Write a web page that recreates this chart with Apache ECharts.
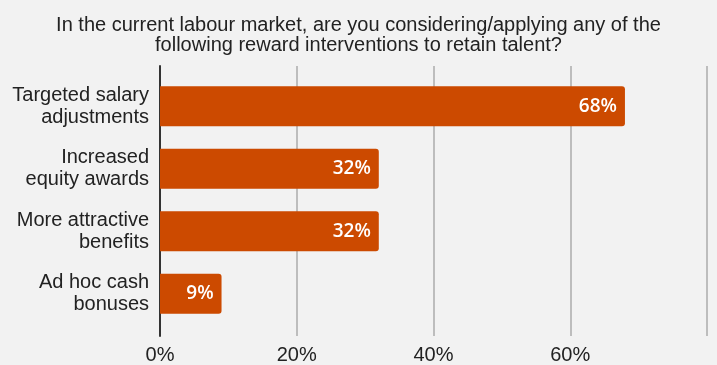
<!DOCTYPE html>
<html>
<head>
<meta charset="utf-8">
<script src="https://cdn.jsdelivr.net/npm/echarts@6/dist/echarts.min.js"></script>
<style>
  html, body { margin: 0; padding: 0; background: #f2f2f2; }
  #chart { width: 717px; height: 365px; }
</style>
</head>
<body>
<div id="chart"></div>
<script>
// Reward interventions, share of respondents (%)
const categories = [
  'Targeted salary\nadjustments',
  'Increased\nequity awards',
  'More attractive\nbenefits',
  'Ad hoc cash\nbonuses'
];
const values = [68, 32, 32, 9];
const tickValues = [0, 20, 40, 60, 80];

const chart = echarts.init(document.getElementById('chart'), null, { renderer: 'canvas' });

const xMin = tickValues[0];
const xMax = tickValues[tickValues.length - 1];
const step = tickValues[1] - tickValues[0];
const baseFont = 'Liberation Sans, Arial, sans-serif';

chart.setOption({
  backgroundColor: '#f2f2f2',
  animation: false,
  title: {
    text: 'In the current labour market, are you considering/applying any of the\nfollowing reward interventions to retain talent?',
    left: 'center',
    top: 10,
    textStyle: {
      fontFamily: baseFont,
      fontSize: 20,
      fontWeight: 'normal',
      color: '#222',
      lineHeight: 20
    }
  },
  grid: [
    // outer frame: gridlines, tick labels and the zero line
    { left: 160, right: 10, top: 66, bottom: 28 },
    // inner band holding the bars
    { left: 160, right: 10, top: 75, bottom: 40 }
  ],
  xAxis: [
    {
      gridIndex: 0,
      type: 'value',
      min: xMin,
      max: xMax,
      interval: step,
      axisLine: { show: false },
      axisTick: { show: false },
      splitLine: { show: true, lineStyle: { color: '#bdbdbd', width: 2 } },
      axisLabel: {
        formatter: v => (v === xMax ? '' : v + '%'),
        fontFamily: baseFont,
        fontSize: 20,
        color: '#222',
        margin: 9
      }
    },
    {
      gridIndex: 1,
      type: 'value',
      min: xMin,
      max: xMax,
      interval: step,
      show: false
    }
  ],
  yAxis: [
    {
      gridIndex: 0,
      type: 'value',
      min: 0,
      max: 1,
      axisLine: { show: true, lineStyle: { color: '#333', width: 2 } },
      axisTick: { show: false },
      axisLabel: { show: false },
      splitLine: { show: false }
    },
    {
      gridIndex: 1,
      type: 'category',
      data: categories,
      inverse: true,
      axisLine: { show: false },
      axisTick: { show: false },
      splitLine: { show: false },
      axisLabel: {
        fontFamily: baseFont,
        fontSize: 20,
        color: '#222',
        lineHeight: 22,
        align: 'right',
        margin: 11
      }
    }
  ],
  series: [
    {
      type: 'bar',
      xAxisIndex: 1,
      yAxisIndex: 1,
      data: values,
      barWidth: 40,
      itemStyle: { color: '#cc4a00', borderRadius: [0, 3, 3, 0] },
      label: {
        show: true,
        position: 'insideRight',
        distance: 8,
        formatter: p => p.value + '%',
        fontFamily: 'Open Sans, sans-serif',
        fontWeight: 600,
        fontSize: 19,
        color: '#ffffff'
      }
    }
  ]
});
</script>
</body>
</html>
